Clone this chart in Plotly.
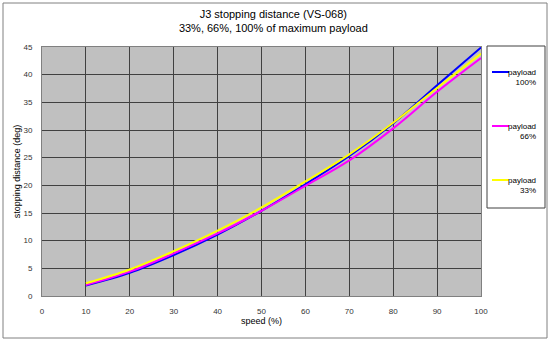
import plotly.graph_objects as go

speed = [10, 20, 30, 40, 50, 60, 70, 80, 90, 100]
payload_100 = [1.9, 4.2, 7.4, 11.1, 15.4, 20.2, 25.3, 31.2, 38.1, 44.9]
payload_66 = [2.0, 4.4, 7.7, 11.3, 15.4, 19.9, 24.5, 30.3, 36.9, 43.0]
payload_33 = [2.3, 4.8, 8.1, 11.8, 16.0, 20.7, 25.6, 31.3, 37.6, 43.8]
series_names = ["payload<br>100%", "payload<br>66%", "payload<br>33%"]
series_colors = ["#0000FF", "#FF00FF", "#FFFF00"]
x_ticks = [0, 10, 20, 30, 40, 50, 60, 70, 80, 90, 100]
y_ticks = [0, 5, 10, 15, 20, 25, 30, 35, 40, 45]

W, H = 550, 342
L, R, T, B = 42, 481, 47, 296  # plot area in pixels


def px(x):
    return (x - L) / (R - L)


def py(y):
    return (B - y) / (B - T)


FONT = "Liberation Sans, Arial, sans-serif"

fig = go.Figure()
for vals, name, color in zip([payload_100, payload_66, payload_33], series_names, series_colors):
    fig.add_trace(go.Scatter(x=speed, y=vals, mode="lines", name=name,
                             line=dict(color=color, width=2, shape="spline"),
                             showlegend=False))

shapes = []
annotations = []
# outer chart border
shapes.append(dict(type="rect", xref="paper", yref="paper",
                   x0=px(3), x1=px(547), y0=py(3), y1=py(338),
                   line=dict(color="#808080", width=1), layer="below"))
# legend box
shapes.append(dict(type="rect", xref="paper", yref="paper",
                   x0=px(487), x1=px(545), y0=py(46), y1=py(208),
                   line=dict(color="#404040", width=1), fillcolor="white"))
leg_y = [72, 126, 180]
for yy, name, color in zip(leg_y, series_names, series_colors):
    shapes.append(dict(type="line", xref="paper", yref="paper",
                       x0=px(492), x1=px(509), y0=py(yy), y1=py(yy),
                       line=dict(color=color, width=2)))
    annotations.append(dict(xref="paper", yref="paper", x=px(538), y=py(yy - 6),
                            xanchor="right", yanchor="top", align="right",
                            text=name, showarrow=False,
                            font=dict(family=FONT, size=8, color="#000000")))

fig.update_layout(
    width=W, height=H, autosize=False,
    margin=dict(l=L, r=W - R, t=T, b=H - B, pad=0),
    paper_bgcolor="white", plot_bgcolor="#C0C0C0",
    font=dict(family=FONT, size=8, color="#333333"),
    title=dict(text="J3 stopping distance (VS-068)<br>33%, 66%, 100% of maximum payload",
               x=0.497, xref="container", xanchor="center",
               y=1 - 18 / H, yref="container", yanchor="top",
               font=dict(family=FONT, size=11, color="#000000")),
    shapes=shapes, annotations=annotations,
    showlegend=False,
)
fig.update_xaxes(range=[0, 100], tickvals=x_ticks, ticks="", showgrid=True,
                 gridcolor="#404040", gridwidth=1, zeroline=False,
                 showline=True, linecolor="#808080", linewidth=1, mirror=True,
                 ticklabelstandoff=7,
                 title=dict(text="speed (%)", standoff=1,
                            font=dict(family=FONT, size=9, color="#000000")))
fig.update_yaxes(range=[0, 45], tickvals=y_ticks, ticks="", showgrid=True,
                 gridcolor="#404040", gridwidth=1, zeroline=False,
                 showline=True, linecolor="#808080", linewidth=1, mirror=True,
                 ticklabelstandoff=7,
                 title=dict(text="stopping distance (deg)", standoff=1,
                            font=dict(family=FONT, size=9, color="#000000")))

fig.write_html("out.html")
